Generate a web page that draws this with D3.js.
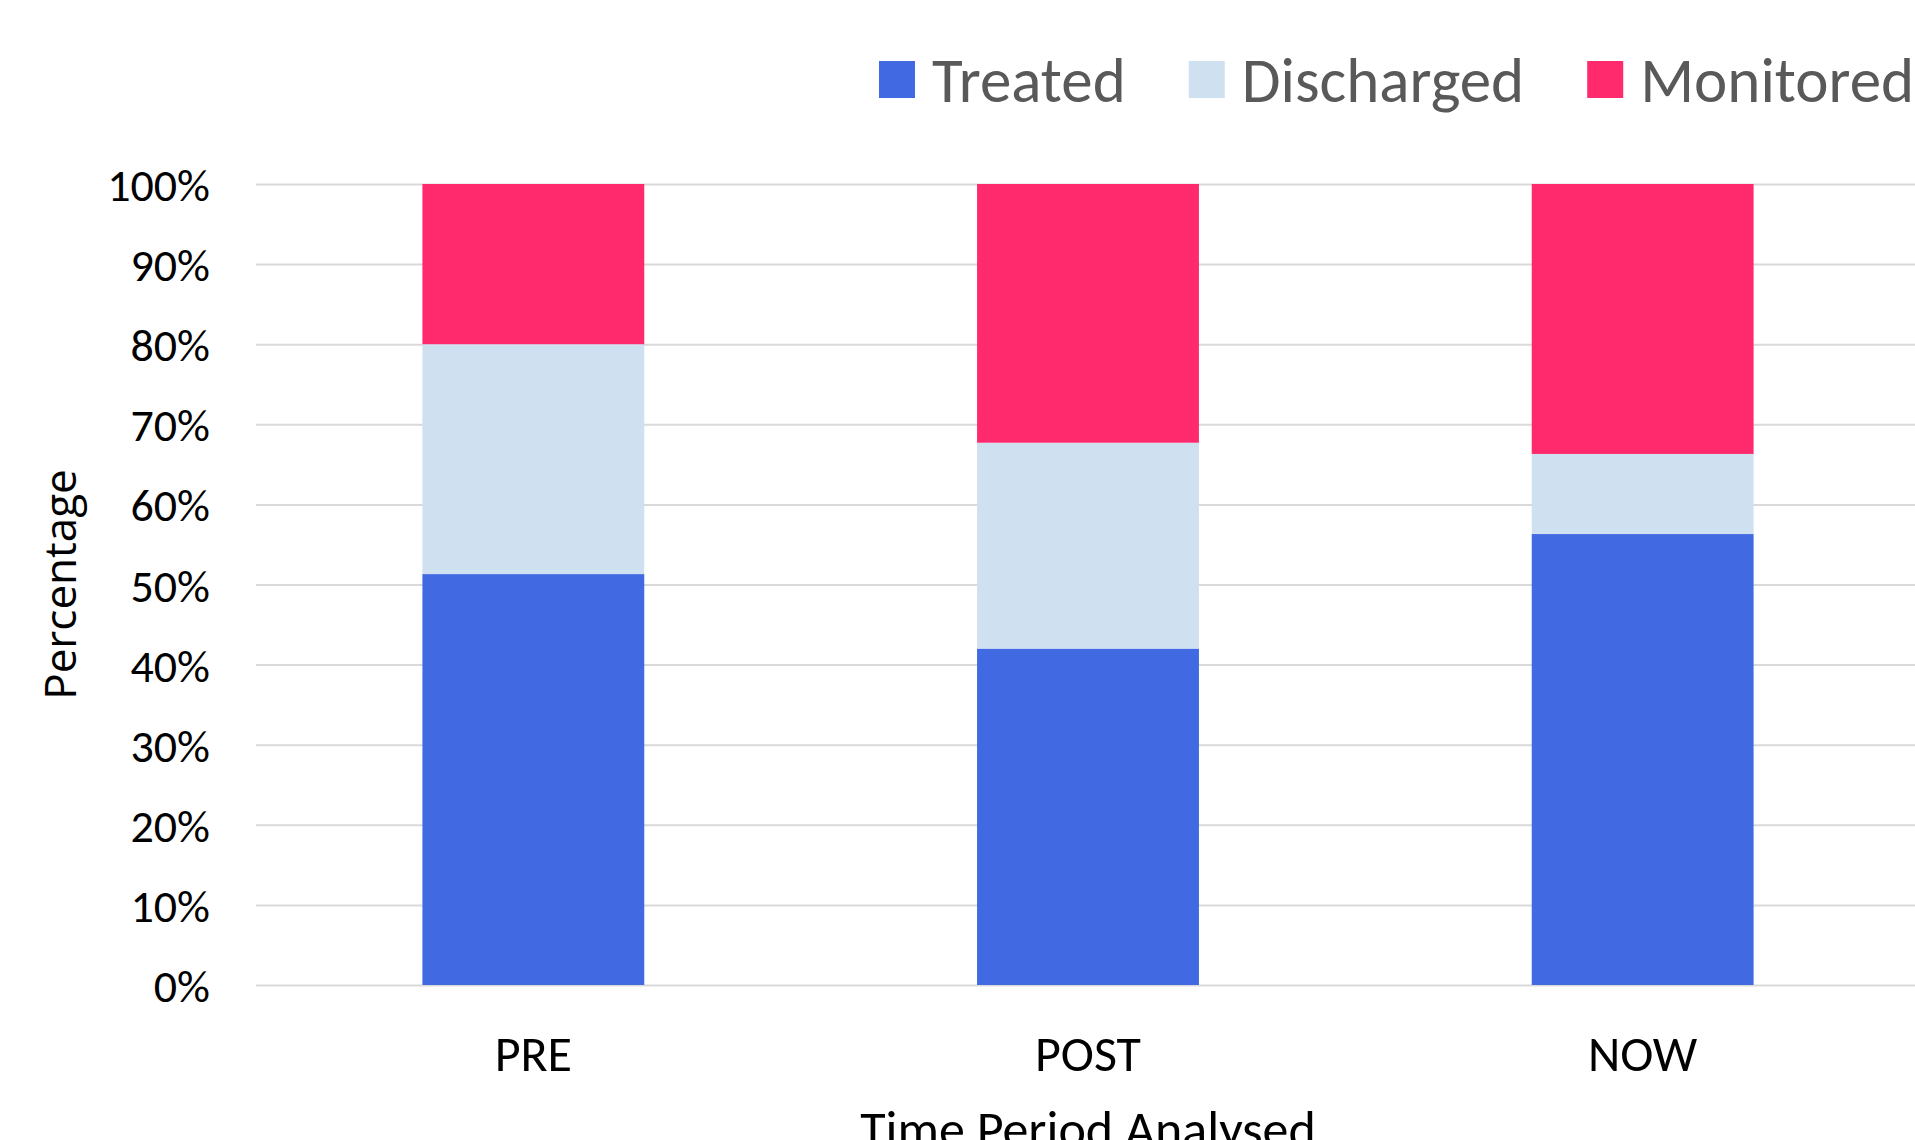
<!DOCTYPE html>
<html>
<head>
<meta charset="utf-8">
<script src="https://cdn.jsdelivr.net/npm/d3@7"></script>
<style>
  html, body { margin: 0; padding: 0; background: #fff; overflow: hidden; }
  #chart svg { display: block; }
</style>
</head>
<body>
<div id="chart"></div>
<script>
// data
var categories = ["PRE", "POST", "NOW"];
var seriesNames = ["Treated", "Discharged", "Monitored"];
var treated = [51.3, 42.0, 56.3];
var discharged = [28.7, 25.7, 10.0];
var monitored = [20.0, 32.3, 33.7];
var yTicks = [0, 10, 20, 30, 40, 50, 60, 70, 80, 90, 100];
var colors = ["#4169e1", "#cfe0f1", "#ff2a6e"];

var w = 1915;
var h = 1140;
var plotLeft = 256, plotRight = 1920, plotTop = 184, plotBottom = 985;
var font = "Carlito, Calibri, Lato, sans-serif";

var rows = categories.map((c, i) => ({
  cat: c,
  Treated: treated[i],
  Discharged: discharged[i],
  Monitored: monitored[i]
}));

var stacked = d3.stack().keys(seriesNames)(rows);

var scaleX = d3.scaleBand()
  .domain(categories)
  .range([plotLeft, plotRight])
  .paddingInner(0.6)
  .paddingOuter(0.3);

var scaleY = d3.scaleLinear()
  .domain([0, 100])
  .range([plotBottom, plotTop]);

var canvas = d3.select("#chart")
  .append("svg")
  .attr("width", w)
  .attr("height", h);

//gridlines
canvas.append("g")
  .attr("transform", "translate(" + plotLeft + ",0)")
  .call(d3.axisLeft(scaleY)
    .tickValues(yTicks)
    .tickSize(-(plotRight - plotLeft))
    .tickFormat(""))
  .call(g => g.select(".domain").remove())
  .call(g => g.selectAll("line")
    .attr("stroke", "#d9d9d9")
    .attr("stroke-width", 2));

//bars
canvas.selectAll("g.series")
  .data(stacked)
  .enter()
  .append("g")
  .attr("class", "series")
  .attr("fill", (d, i) => colors[i])
  .selectAll("rect")
  .data(d => d)
  .enter()
  .append("rect")
  .attr("x", d => scaleX(d.data.cat))
  .attr("y", d => scaleY(d[1]))
  .attr("width", scaleX.bandwidth())
  .attr("height", d => scaleY(d[0]) - scaleY(d[1]));

//y axis labels
canvas.append("g")
  .attr("transform", "translate(" + plotLeft + ",0)")
  .call(d3.axisLeft(scaleY)
    .tickValues(yTicks)
    .tickSize(0)
    .tickPadding(46)
    .tickFormat(d => d + "%"))
  .call(g => g.select(".domain").remove())
  .call(g => g.selectAll("text")
    .attr("fill", "#000")
    .attr("dy", "0.36em")
    .style("font-family", font)
    .style("font-size", "46px"));

//x axis labels
canvas.append("g")
  .attr("transform", "translate(0," + plotBottom + ")")
  .call(d3.axisBottom(scaleX).tickSize(0))
  .call(g => g.select(".domain").remove())
  .call(g => g.selectAll("text")
    .attr("fill", "#000")
    .attr("y", 86)
    .attr("dy", null)
    .style("font-family", font)
    .style("font-size", "50px"));

//axis titles
canvas.append("text")
  .attr("x", (plotLeft + plotRight) / 2)
  .attr("y", 1147)
  .attr("text-anchor", "middle")
  .style("font-family", font)
  .style("font-size", "52px")
  .text("Time Period Analysed");

canvas.append("text")
  .attr("transform", "translate(76," + (plotTop + plotBottom) / 2 + ") rotate(-90)")
  .attr("text-anchor", "middle")
  .style("font-family", "'Open Sans', sans-serif")
  .style("font-size", "44px")
  .text("Percentage");

//legend
var legend = canvas.append("g").attr("class", "legend");
var lx = 879;
seriesNames.forEach((name, i) => {
  legend.append("rect")
    .attr("x", lx)
    .attr("y", 61)
    .attr("width", 36)
    .attr("height", 37)
    .attr("fill", colors[i]);
  var t = legend.append("text")
    .attr("x", lx + 53)
    .attr("y", 102)
    .attr("fill", "#595959")
    .style("font-family", font)
    .style("font-size", "63px")
    .text(name);
  lx = lx + 53 + t.node().getComputedTextLength() + 63;
});
</script>
</body>
</html>
